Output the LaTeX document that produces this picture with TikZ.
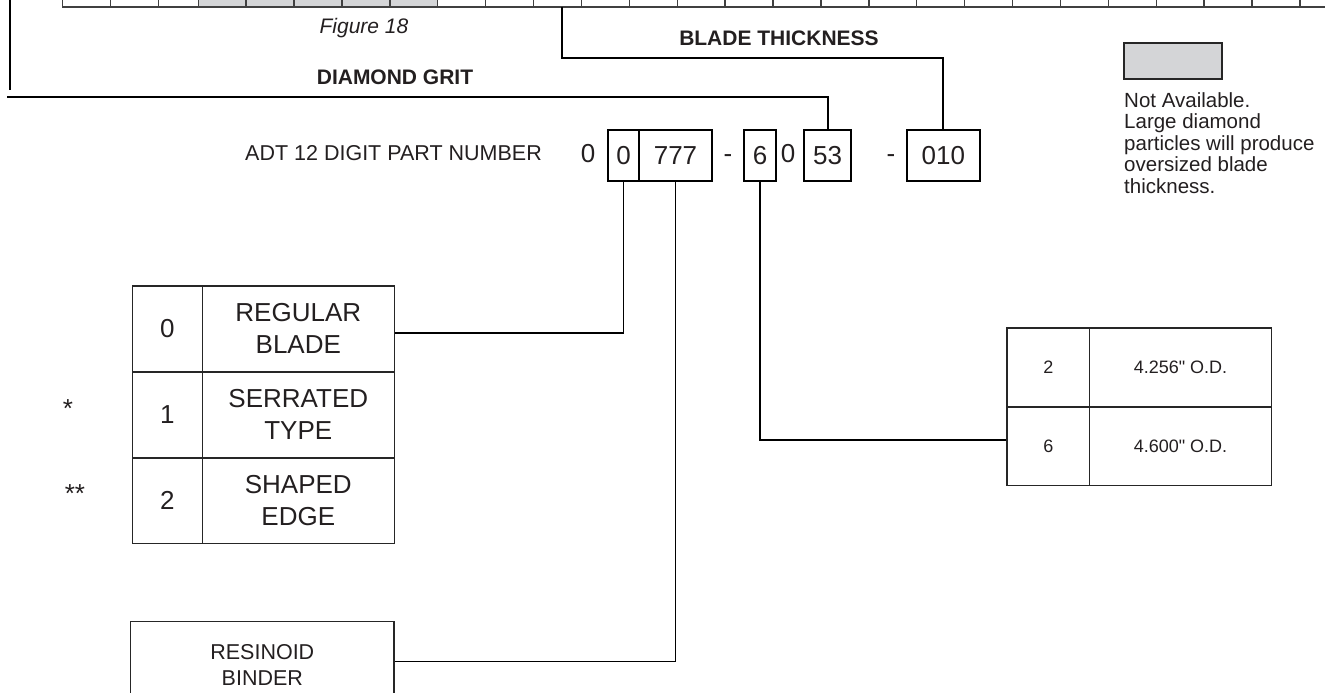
\documentclass[tikz,border=0pt]{standalone}
\usepackage{fontspec}
\setmainfont{Liberation Sans}
\newfontfamily\rawfont{Liberation Sans}[Ligatures=TeXOff]
\definecolor{ink}{HTML}{231F20}
\definecolor{graycell}{HTML}{D4D5D7}
\newcommand{\dq}{{\rawfont\symbol{34}}}
\begin{document}
\begin{tikzpicture}[x=1pt,y=-1pt,
  txt/.style={inner sep=0pt, text=ink},
  fa/.style={font=\fontsize{21.5}{26}\selectfont},
  fb/.style={font=\fontsize{26}{31.7}\selectfont},
  fc/.style={font=\fontsize{18}{22}\selectfont},
  conn/.style={line width=1.9pt, draw=black},
  stripline/.style={line width=1.4pt, draw=black!75},
  pbox/.style={draw=black, line width=1.9pt, minimum height=51pt, inner sep=0pt, text=ink, fb},
  cell/.style={draw=black!85, line width=1.6pt, inner sep=0pt, text=ink, align=center}
]
\useasboundingbox (0,0) rectangle (1325,693);
\clip (0,0) rectangle (1325,693);

% top strip
\fill[graycell] (198.2,-5) rectangle (437.7,7);
\draw[stripline] (62.3,7) -- (1330,7);
\foreach \x in {62.3,110.7,158.7,198.2} \draw[stripline] (\x,-5) -- (\x,7);
\foreach \k in {0,...,22} \draw[stripline] ({246.1+47.9*\k},-5) -- ({246.1+47.9*\k},7);

% top labels
\node[txt,font=\fontsize{21}{25}\selectfont\itshape] (fig) at (364,28) {Figure 18};
\node[txt,font=\fontsize{21}{25}\selectfont\bfseries] (bt) at (779,38) {BLADE THICKNESS};
\node[txt,font=\fontsize{21}{25}\selectfont\bfseries] (dg) at (395,77) {DIAMOND GRIT};

% part number
\node[txt,fa,anchor=base west] (adt) at (245,160) {ADT 12 DIGIT PART NUMBER};
\node[txt,fb,anchor=base] (o1) at (588,162.5) {0};
\node[pbox,minimum width=31.6pt] (b0) at (623.5,155.5) {0};
\node[pbox,minimum width=72.4pt] (b777) at (675.5,155.5) {777};
\node[txt,fb,anchor=base] (m1) at (728,162.5) {-};
\node[pbox,minimum width=32pt] (b6) at (760,155.5) {6};
\node[txt,fb,anchor=base] (o2) at (788,162.5) {0};
\node[pbox,minimum width=46.7pt] (b53) at (827.6,155.5) {53};
\node[txt,fb,anchor=base] (m2) at (891,162.5) {-};
\node[pbox,minimum width=73.3pt] (b010) at (943.3,155.5) {010};

% connectors from top
\coordinate (bs) at (562,7);
\coordinate (bc) at (562,58);
\draw[conn] (bs) -- (bc) -| (b010.north);
\coordinate (ls) at (10,-2);
\coordinate (le) at (10,90);
\draw[conn] (ls) -- (le);
\coordinate (ds) at (7,97);
\draw[conn] (ds) -| (b53.north);

% left table
\node[cell,fb,minimum width=70pt,minimum height=86pt] (tn0) at (167.3,328.7) {0};
\node[cell,fb,minimum width=192pt,minimum height=86pt] (tt0) at (298.3,328.7) {REGULAR\\BLADE};
\node[cell,fb,minimum width=70pt,minimum height=86pt] (tn1) at (167.3,414.7) {1};
\node[cell,fb,minimum width=192pt,minimum height=86pt] (tt1) at (298.3,414.7) {SERRATED\\TYPE};
\node[cell,fb,minimum width=70pt,minimum height=85.6pt] (tn2) at (167.3,500.5) {2};
\node[cell,fb,minimum width=192pt,minimum height=85.6pt] (tt2) at (298.3,500.5) {SHAPED\\EDGE};
\node[txt,font=\fontsize{26}{30}\selectfont] (s1) at (68,409) {*};
\node[txt,font=\fontsize{26}{30}\selectfont] (s2) at (75,494) {**};
\draw[conn] (b0.south) |- ([yshift=-4.3pt]tt0.east);

% resinoid box
\node[cell,minimum width=263.3pt,minimum height=80.4pt] (resin) at (262.3,661.5) {};
\node[txt,fa,align=center] (resint) at (262.3,664.5) {\fontsize{21.5}{31}\selectfont RESINOID\\BINDER};
\draw[conn] (b777.south) |- (resin.east);

% right table
\node[cell,fc,minimum width=82.5pt,minimum height=78.7pt] (r2n) at (1048.3,367.4) {2};
\node[cell,fc,minimum width=182pt,minimum height=78.7pt] (r2t) at (1180.5,367.4) {4.256\dq{} O.D.};
\node[cell,fc,minimum width=82.5pt,minimum height=78.6pt] (r6n) at (1048.3,446) {6};
\node[cell,fc,minimum width=182pt,minimum height=78.6pt] (r6t) at (1180.5,446) {4.600\dq{} O.D.};
\draw[conn] (b6.south) |- ([yshift=6pt]r6n.west);

% legend
\node[draw=black!85,fill=graycell,line width=1.3pt,minimum width=98pt,minimum height=36pt,inner sep=0pt] (leg) at (1173,61) {};
\node[txt,font=\fontsize{20.5}{21.5}\selectfont,align=left,anchor=north west] (legt) at (1124,92) {Not Available.\\Large diamond\\particles will produce\\oversized blade\\thickness.};
\end{tikzpicture}
\end{document}
